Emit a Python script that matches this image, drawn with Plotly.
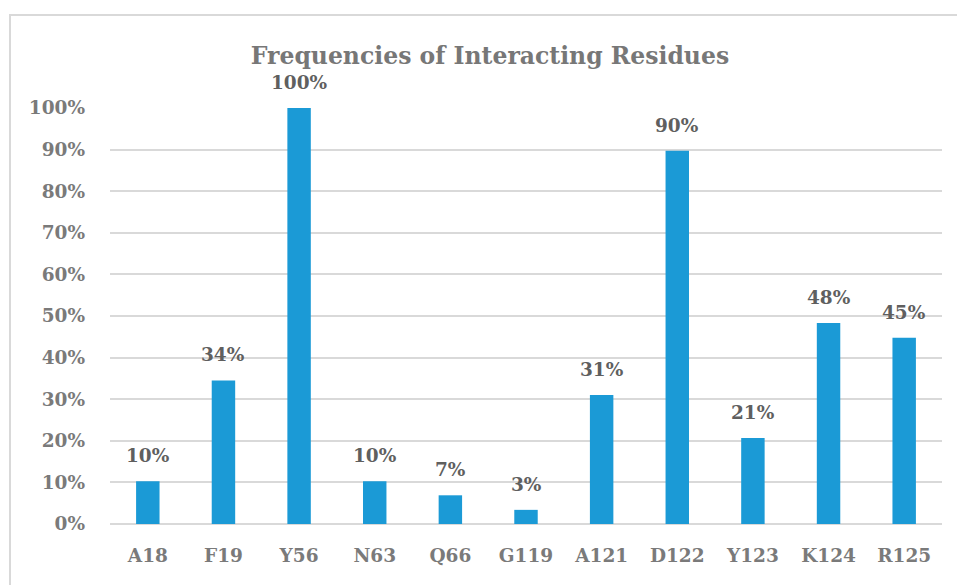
import plotly.graph_objects as go

residues = ["A18", "F19", "Y56", "N63", "Q66", "G119", "A121", "D122", "Y123", "K124", "R125"]
frequencies = [0.103, 0.345, 1.0, 0.103, 0.069, 0.034, 0.310, 0.897, 0.207, 0.483, 0.448]
tick_vals = [0, 0.1, 0.2, 0.3, 0.4, 0.5, 0.6, 0.7, 0.8, 0.9, 1.0]
tick_text = ["0%", "10%", "20%", "30%", "40%", "50%", "60%", "70%", "80%", "90%", "100%"]

FONT = "DejaVu Serif"

fig = go.Figure()
fig.add_trace(go.Bar(
    x=residues, y=frequencies,
    marker=dict(color="#1b9ad6", line=dict(width=0)),
    hoverinfo="skip",
))

for r, v in zip(residues, frequencies):
    fig.add_annotation(
        x=r, y=v, text=f"<b>{round(v*100)}%</b>", showarrow=False,
        yanchor="bottom", yshift=13,
        font=dict(family=FONT, size=18.5, color="#5f5f5f"),
    )

fig.add_shape(type="rect", xref="paper", yref="paper",
              x0=-0.1202, y0=-0.3, x1=1.2, y1=1.2236,
              line=dict(color="#d9d9d9", width=2), fillcolor="rgba(0,0,0,0)", layer="below")

fig.update_layout(
    width=957, height=585,
    margin=dict(l=110, r=15, t=108, b=61),
    paper_bgcolor="white", plot_bgcolor="white",
    bargap=0.69,
    showlegend=False,
    title=dict(text="<b>Frequencies of Interacting Residues</b>",
               x=0.512, xanchor="center", y=0.905, yanchor="middle",
               font=dict(family=FONT, size=23.5, color="#777777")),
    font=dict(family=FONT),
)
fig.update_xaxes(
    showgrid=False, showline=False, ticks="",
    tickfont=dict(family=FONT, size=18.5, color="#7a7a7a"),
    tickprefix="<b>", ticksuffix="</b>",
    ticklabelstandoff=18,
)
fig.update_yaxes(
    range=[0, 1.0], tickvals=tick_vals, ticktext=[f"<b>{t}</b>" for t in tick_text],
    showgrid=True, gridcolor="#d9d9d9", gridwidth=1.5,
    zeroline=True, zerolinecolor="#d9d9d9", zerolinewidth=2,
    showline=False, ticks="", ticklen=0,
    tickfont=dict(family=FONT, size=18.5, color="#7a7a7a"),
    ticklabelstandoff=24,
)
fig.update_traces(cliponaxis=False)

fig.write_html("out.html", config={"displayModeBar": False},
               post_script="document.body.style.margin='0';")
